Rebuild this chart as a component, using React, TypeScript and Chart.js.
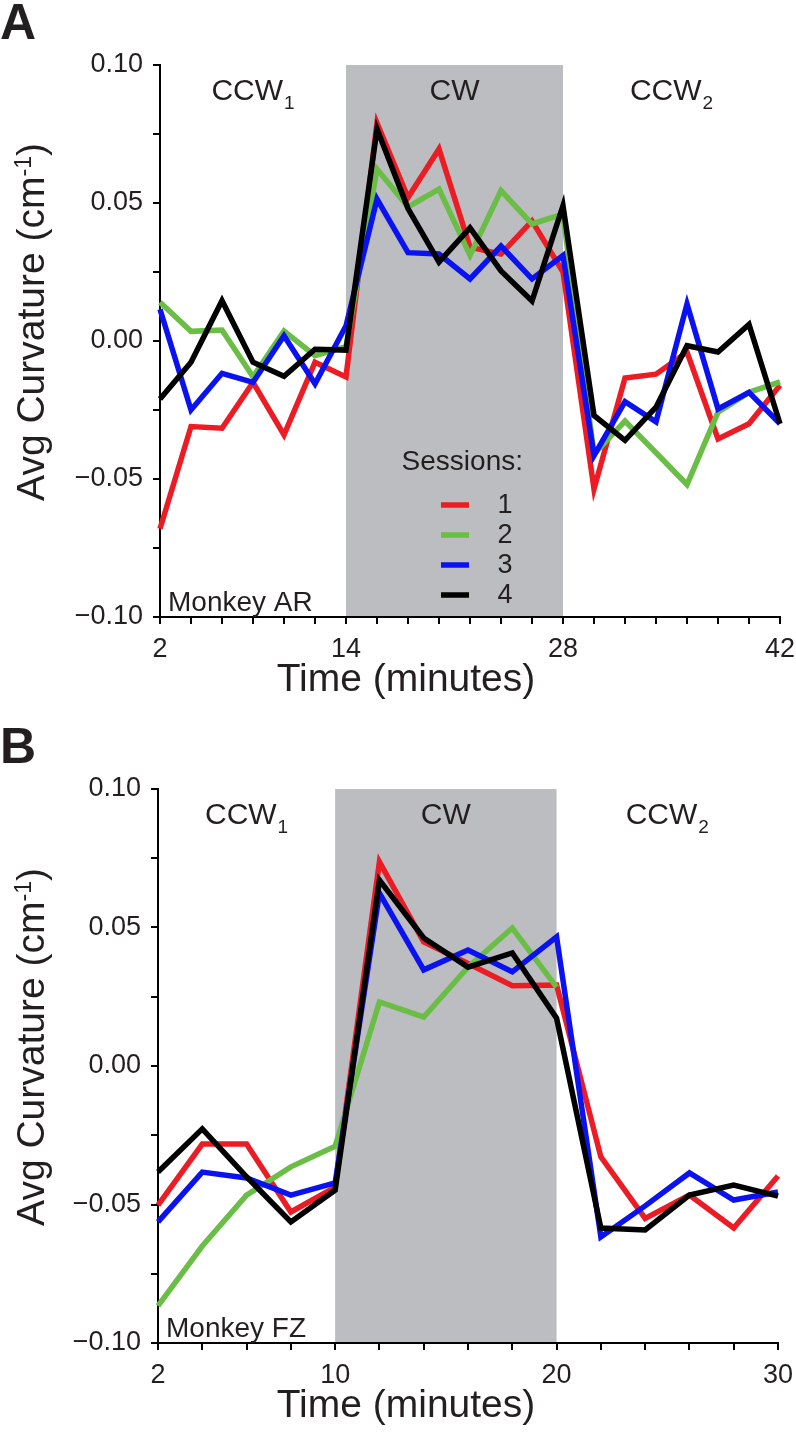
import React, { useEffect, useRef } from 'react';
import { Chart, registerables } from 'chart.js';

Chart.register(...registerables);

const FONT = '"Liberation Sans", Arial, Helvetica, sans-serif';
const TEXT = '#231f20';
const LINE_W = 5.5;

// ---------- Panel A : Monkey AR ----------
const timeA = [2, 4, 6, 8, 10, 12, 14, 16, 18, 20, 22, 24, 26, 28, 30, 32, 34, 36, 38, 40, 42];
const session1A = [-0.068, -0.031, -0.0316, -0.015, -0.034, -0.0077, -0.013, 0.079, 0.052, 0.0696, 0.034, 0.0315, 0.0435, 0.025, -0.0536, -0.0134, -0.012, -0.004, -0.0355, -0.03, -0.016];
const session2A = [0.014, 0.0035, 0.004, -0.013, 0.0036, -0.0053, -0.002, 0.0623, 0.0486, 0.055, 0.031, 0.0545, 0.0424, 0.046, -0.041, -0.029, -0.0405, -0.052, -0.0258, -0.0186, -0.0148];
const session3A = [0.0115, -0.025, -0.0117, -0.015, 0.0019, -0.0155, 0.0055, 0.0514, 0.032, 0.0315, 0.0225, 0.0344, 0.0225, 0.031, -0.0415, -0.022, -0.0293, 0.0134, -0.0246, -0.0186, -0.03];
const session4A = [-0.021, -0.0077, 0.0146, -0.0077, -0.0128, -0.003, -0.0033, 0.0768, 0.048, 0.0286, 0.041, 0.0254, 0.0145, 0.049, -0.027, -0.036, -0.024, -0.0017, -0.004, 0.006, -0.03];
const xLabelA = [2, 14, 28, 42];
const phaseEdgesA = [2, 14, 28, 42];

// ---------- Panel B : Monkey FZ ----------
const timeB = [2, 4, 6, 8, 10, 12, 14, 16, 18, 20, 22, 24, 26, 28, 30];
const session1B = [-0.0502, -0.0282, -0.0282, -0.0527, -0.0437, 0.0737, 0.0448, 0.037, 0.029, 0.0292, -0.0328, -0.055, -0.0466, -0.0585, -0.0397];
const session2B = [-0.0866, -0.065, -0.0466, -0.0364, -0.029, 0.0231, 0.0177, 0.0357, 0.0498, 0.0285, null, null, null, null, null];
const session3B = [-0.0563, -0.0383, -0.0404, -0.0466, -0.0422, 0.0624, 0.0347, 0.0419, 0.034, 0.0466, -0.0617, -0.0505, -0.0386, -0.0484, -0.0455];
const session4B = [-0.0383, -0.0227, -0.04, -0.0563, -0.0448, 0.0671, 0.0462, 0.0357, 0.0408, 0.0173, -0.0585, -0.0592, -0.0466, -0.043, -0.047];
const xLabelB = [2, 10, 20, 30];
const phaseEdgesB = [2, 10, 20, 30];

// ---------- shared ----------
const sessionNames = ['1', '2', '3', '4'];
const sessionColors = ['#ec1c24', '#6abd45', '#0a12f2', '#000000'];
const phaseNames = ['CCW', 'CW', 'CCW'];
const phaseSubs = ['1', '', '2'];
const yMin = -0.1;
const yMax = 0.1;
const yStep = 0.025;
const yLabelStep = 0.05;
const xStep = 2;
const legendTitle = 'Sessions:';
const xTitle = 'Time (minutes)';
const yTitleMain = 'Avg Curvature (cm';
const yTitleSup = '-1';
const yTitleEnd = ')';

type Series = (number | null)[];

interface PanelDef {
  letter: string;
  letterBaseline: number;
  monkey: string;
  times: number[];
  series: Series[];
  xLabels: number[];
  phaseEdges: number[];
  legend: boolean;
  padTop: number;
  padRight: number;
  yAxisWidth: number;
  xAxisHeight: number;
}

const panelA: PanelDef = {
  letter: 'A',
  letterBaseline: 39,
  monkey: 'Monkey AR',
  times: timeA,
  series: [session1A, session2A, session3A, session4A],
  xLabels: xLabelA,
  phaseEdges: phaseEdgesA,
  legend: true,
  padTop: 65,
  padRight: 16,
  yAxisWidth: 160,
  xAxisHeight: 103,
};

const panelB: PanelDef = {
  letter: 'B',
  letterBaseline: 43,
  monkey: 'Monkey FZ',
  times: timeB,
  series: [session1B, session2B, session3B, session4B],
  xLabels: xLabelB,
  phaseEdges: phaseEdgesB,
  legend: false,
  padTop: 69,
  padRight: 18,
  yAxisWidth: 158,
  xAxisHeight: 97,
};

const fmtY = (v: number) => (v < 0 ? '\u2212' : '') + Math.abs(v).toFixed(2);

const bandPlugin = {
  id: 'phaseBand',
  beforeDraw(chart: any, _args: any, opts: any) {
    const { ctx, chartArea, scales } = chart;
    const x0 = scales.x.getPixelForValue(opts.from);
    const x1 = scales.x.getPixelForValue(opts.to);
    ctx.save();
    ctx.fillStyle = opts.color;
    ctx.fillRect(x0, chartArea.top, x1 - x0, chartArea.bottom - chartArea.top);
    ctx.restore();
  },
};

const textPlugin = {
  id: 'figureText',
  afterDraw(chart: any, _args: any, o: any) {
    const { ctx, chartArea, scales } = chart;
    const ca = chartArea;
    ctx.save();
    ctx.fillStyle = TEXT;

    // panel letter
    ctx.font = `bold 50px ${FONT}`;
    ctx.textAlign = 'left';
    ctx.textBaseline = 'alphabetic';
    ctx.fillText(o.letter, 0, o.letterBaseline);

    // phase labels
    const edges: number[] = o.phaseEdges;
    for (let i = 0; i < phaseNames.length; i++) {
      const cx = (scales.x.getPixelForValue(edges[i]) + scales.x.getPixelForValue(edges[i + 1])) / 2;
      ctx.font = `30px ${FONT}`;
      const wMain = ctx.measureText(phaseNames[i]).width;
      ctx.font = `19px ${FONT}`;
      const wSub = phaseSubs[i] ? ctx.measureText(phaseSubs[i]).width + 1 : 0;
      const x0 = cx - (wMain + wSub) / 2;
      const base = ca.top + 35;
      ctx.font = `30px ${FONT}`;
      ctx.fillText(phaseNames[i], x0, base);
      if (phaseSubs[i]) {
        ctx.font = `19px ${FONT}`;
        ctx.fillText(phaseSubs[i], x0 + wMain + 1, base + 9);
      }
    }

    // monkey label
    ctx.font = `28px ${FONT}`;
    ctx.fillText(o.monkey, ca.left + 8, ca.bottom - 6);

    // x title
    ctx.font = `39px ${FONT}`;
    ctx.textAlign = 'center';
    ctx.textBaseline = 'middle';
    ctx.fillText(xTitle, 406, ca.bottom + 63);

    // y title (rotated, with superscript)
    ctx.save();
    ctx.translate(34, (ca.top + ca.bottom) / 2 - 19);
    ctx.rotate(-Math.PI / 2);
    ctx.textAlign = 'left';
    ctx.textBaseline = 'alphabetic';
    ctx.font = `39px ${FONT}`;
    const w1 = ctx.measureText(yTitleMain).width;
    const w3 = ctx.measureText(yTitleEnd).width;
    ctx.font = `23px ${FONT}`;
    const w2 = ctx.measureText(yTitleSup).width;
    let x = -(w1 + w2 + w3) / 2;
    const base = 10;
    ctx.font = `39px ${FONT}`;
    ctx.fillText(yTitleMain, x, base);
    x += w1;
    ctx.font = `23px ${FONT}`;
    ctx.fillText(yTitleSup, x, base - 13);
    x += w2;
    ctx.font = `39px ${FONT}`;
    ctx.fillText(yTitleEnd, x, base);
    ctx.restore();

    // legend
    if (o.legend) {
      ctx.font = `28px ${FONT}`;
      ctx.textAlign = 'right';
      ctx.textBaseline = 'middle';
      ctx.fillText(legendTitle, 523, 462);
      ctx.textAlign = 'center';
      ctx.font = `27px ${FONT}`;
      for (let i = 0; i < sessionNames.length; i++) {
        const y = 505 + i * 30;
        ctx.strokeStyle = sessionColors[i];
        ctx.lineWidth = LINE_W;
        ctx.beginPath();
        ctx.moveTo(441, y);
        ctx.lineTo(469, y);
        ctx.stroke();
        ctx.fillStyle = TEXT;
        ctx.fillText(sessionNames[i], 505, y + 1);
      }
    }
    ctx.restore();
  },
};

function makeConfig(p: PanelDef): any {
  const datasets = p.series.map((vals, i) => ({
    label: sessionNames[i],
    data: p.times.map((t, j) => ({ x: t, y: vals[j] })),
    borderColor: sessionColors[i],
    backgroundColor: sessionColors[i],
    borderWidth: LINE_W,
    pointRadius: 0,
    pointHoverRadius: 0,
    tension: 0,
    fill: false,
    spanGaps: false,
    clip: false,
    borderJoinStyle: 'miter',
    borderCapStyle: 'butt',
    order: sessionNames.length - i,
  }));
  const tickFont = { family: FONT, size: 27 };
  return {
    type: 'line',
    data: { datasets },
    plugins: [bandPlugin, textPlugin],
    options: {
      responsive: false,
      animation: false,
      devicePixelRatio: 1,
      layout: { padding: { left: 0, right: p.padRight, top: p.padTop, bottom: 0 } },
      plugins: {
        legend: { display: false },
        tooltip: { enabled: false },
        title: { display: false },
        phaseBand: { from: p.phaseEdges[1], to: p.phaseEdges[2], color: '#bcbdc0' },
        figureText: {
          letter: p.letter,
          letterBaseline: p.letterBaseline,
          monkey: p.monkey,
          phaseEdges: p.phaseEdges,
          legend: p.legend,
        },
      },
      scales: {
        x: {
          type: 'linear',
          min: p.times[0],
          max: p.times[p.times.length - 1],
          afterFit: (s: any) => {
            s.height = p.xAxisHeight;
            s.paddingLeft = 0;
            s.paddingRight = 0;
          },
          ticks: {
            stepSize: xStep,
            autoSkip: false,
            maxRotation: 0,
            minRotation: 0,
            color: TEXT,
            font: tickFont,
            padding: 9,
            callback: (v: number) => {
              const r = Math.round(v);
              return p.xLabels.includes(r) ? String(r) : '';
            },
          },
          grid: { drawOnChartArea: false, drawTicks: true, tickLength: 7, color: '#000', lineWidth: 2 },
          border: { display: true, color: '#000', width: 2 },
        },
        y: {
          type: 'linear',
          min: yMin,
          max: yMax,
          afterFit: (s: any) => {
            s.width = p.yAxisWidth;
            s.paddingTop = 0;
            s.paddingBottom = 0;
          },
          ticks: {
            stepSize: yStep,
            autoSkip: false,
            color: TEXT,
            font: tickFont,
            padding: 10,
            callback: (v: number) => {
              const k = Math.round(v * 1000);
              return k % Math.round(yLabelStep * 1000) === 0 ? fmtY(k / 1000) : '';
            },
          },
          grid: { drawOnChartArea: false, drawTicks: true, tickLength: 7, color: '#000', lineWidth: 2 },
          border: { display: true, color: '#000', width: 2 },
        },
      },
    },
  };
}

function Panel({ def }: { def: PanelDef }) {
  const ref = useRef<HTMLCanvasElement>(null);
  useEffect(() => {
    const chart = new Chart(ref.current as HTMLCanvasElement, makeConfig(def));
    return () => chart.destroy();
  }, [def]);
  return <canvas ref={ref} width={796} height={720} style={{ display: 'block', width: 796, height: 720 }} />;
}

export default function App() {
  return (
    <div style={{ position: 'absolute', left: 0, top: 0, width: 796, height: 1440, background: '#fff' }}>
      <Panel def={panelA} />
      <Panel def={panelB} />
    </div>
  );
}
